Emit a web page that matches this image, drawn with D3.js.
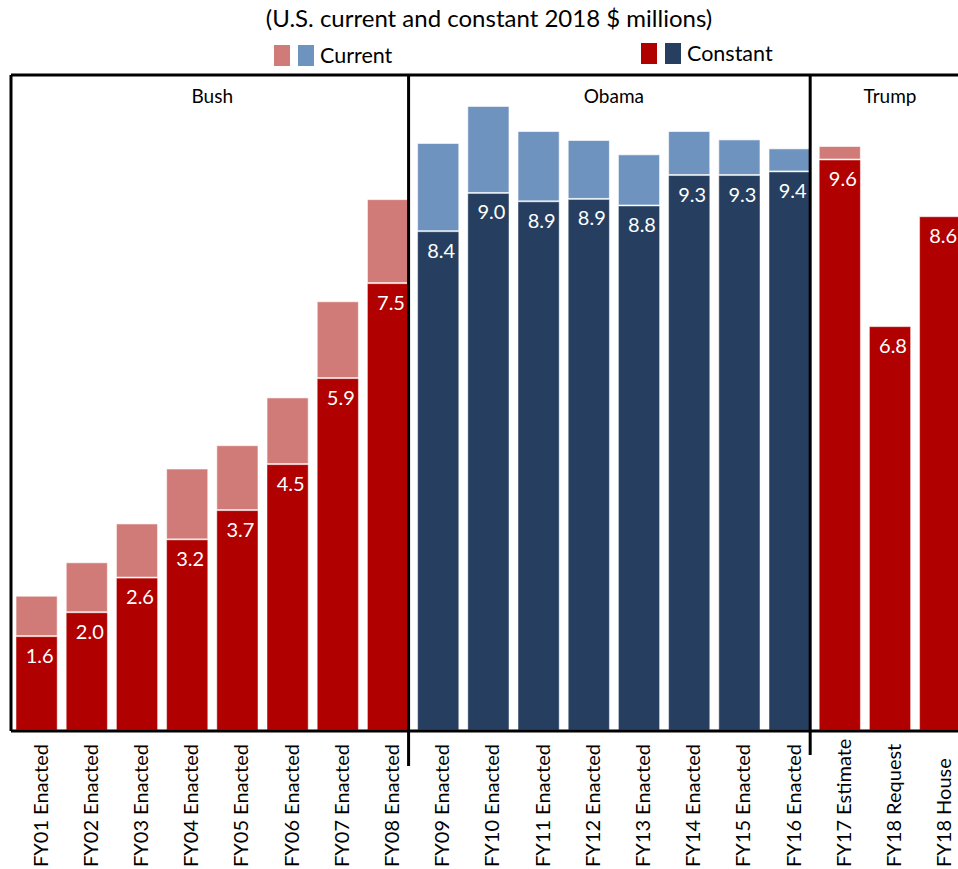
<!DOCTYPE html>
<html>

<head>
  <meta charset="utf-8">
  <script src="https://cdn.jsdelivr.net/npm/d3@7/dist/d3.min.js"></script>
  <style type="text/css">
    body {
      margin: 0;
      background: #fff;
      font-family: Lato, "Open Sans", sans-serif;
    }
  </style>
</head>

<body>
  <script type="text/javascript">
    const width = 958;
    const height = 869;

    // data
    const categories = [
      'FY01 Enacted', 'FY02 Enacted', 'FY03 Enacted', 'FY04 Enacted',
      'FY05 Enacted', 'FY06 Enacted', 'FY07 Enacted', 'FY08 Enacted',
      'FY09 Enacted', 'FY10 Enacted', 'FY11 Enacted', 'FY12 Enacted',
      'FY13 Enacted', 'FY14 Enacted', 'FY15 Enacted', 'FY16 Enacted',
      'FY17 Estimate', 'FY18 Request', 'FY18 House'
    ];
    const constant = [1.58, 1.98, 2.56, 3.2, 3.69, 4.46, 5.9, 7.49,
      8.36, 9.0, 8.86, 8.9, 8.79, 9.3, 9.3, 9.36, 9.56, 6.77, 8.61];
    // top of the lighter "current" segment (0 = none)
    const current = [2.24, 2.8, 3.45, 4.37, 4.76, 5.56, 7.17, 8.88,
      9.82, 10.44, 10.02, 9.87, 9.63, 10.02, 9.88, 9.73, 9.77, 0, 0];
    const groupNames = ['Bush', 'Obama', 'Trump'];
    const groupSizes = [8, 8, 3];

    const colors = {
      Bush: { dark: '#b00000', light: '#d17b78' },
      Obama: { dark: '#263f60', light: '#6f93bf' },
      Trump: { dark: '#b00000', light: '#d17b78' }
    };

    // which group each category belongs to
    const groupOf = [];
    groupNames.forEach((g, i) => {
      for (let k = 0; k < groupSizes[i]; k++) groupOf.push(g);
    });

    const data = categories.map((c, i) => ({
      cat: c, constant: constant[i], current: current[i], group: groupOf[i]
    }));

    const svg = d3.select('body').append('svg')
      .attr('width', width)
      .attr('height', height);

    const x = d3.scaleBand()
      .domain(categories)
      .range([11.5, 11.5 + 19 * 50.2])
      .paddingInner(0.18)
      .paddingOuter(0.09);

    const y = d3.scaleLinear()
      .domain([0, 11])
      .range([730, 73]);

    const fmt = d3.format('.1f');

    // title
    svg.append('text')
      .attr('x', 489)
      .attr('y', 27)
      .attr('text-anchor', 'middle')
      .style('font-size', '24px')
      .style('fill', '#000')
      .text('(U.S. current and constant 2018 $ millions)');

    // legend
    const legend = [
      { label: 'Current', x: 274, y: 45, key: 'light' },
      { label: 'Constant', x: 641, y: 43, key: 'dark' }
    ];
    legend.forEach(l => {
      svg.append('rect').attr('x', l.x).attr('y', l.y)
        .attr('width', 16).attr('height', 21)
        .attr('fill', colors.Bush[l.key]);
      svg.append('rect').attr('x', l.x + 24).attr('y', l.y)
        .attr('width', 16).attr('height', 21)
        .attr('fill', colors.Obama[l.key]);
      svg.append('text').attr('x', l.x + 46).attr('y', l.y + 18)
        .style('font-size', '21.5px')
        .text(l.label);
    });

    // bars
    const bars = svg.append('g');

    bars.selectAll('.cur').data(data.filter(d => d.current > d.constant)).join('rect')
      .attr('class', 'cur')
      .attr('x', d => x(d.cat))
      .attr('width', x.bandwidth())
      .attr('y', d => y(d.current))
      .attr('height', d => y(d.constant) - y(d.current))
      .attr('fill', d => colors[d.group].light)
      .attr('stroke', 'rgba(255,255,255,0.6)')
      .attr('stroke-width', 1);

    bars.selectAll('.con').data(data).join('rect')
      .attr('class', 'con')
      .attr('x', d => x(d.cat))
      .attr('width', x.bandwidth())
      .attr('y', d => y(d.constant) + 1)
      .attr('height', d => y(0) - y(d.constant) - 1)
      .attr('fill', d => colors[d.group].dark)
      .attr('stroke', 'rgba(255,255,255,0.45)')
      .attr('stroke-width', 1);

    bars.selectAll('.val').data(data).join('text')
      .attr('class', 'val')
      .attr('x', d => x(d.cat) + x.bandwidth() / 2 + 3)
      .attr('y', d => y(d.constant) + 27)
      .attr('text-anchor', 'middle')
      .style('font-size', '20px')
      .style('fill', '#fff')
      .text(d => fmt(d.constant));

    // frame, dividers, axis line
    const frame = svg.append('g')
      .attr('stroke', '#000')
      .attr('stroke-width', 3)
      .attr('fill', 'none');

    frame.append('line').attr('x1', 11).attr('x2', 970)
      .attr('y1', y(11) + 2).attr('y2', y(11) + 2);
    frame.append('line').attr('x1', 11).attr('x2', 11)
      .attr('y1', y(11) + 2).attr('y2', y(0) + 1);
    frame.append('line').attr('x1', 11).attr('x2', 970)
      .attr('y1', y(0) + 1).attr('y2', y(0) + 1);

    const lastOfGroup = [categories[7], categories[15]];
    const dividerEnds = [766, 755];
    lastOfGroup.forEach((c, i) => {
      const dx = x(c) + x.bandwidth();
      frame.append('line').attr('x1', dx).attr('x2', dx)
        .attr('y1', y(11) + 2).attr('y2', dividerEnds[i]);
    });

    // group titles centred over their categories
    let start = 0;
    groupNames.forEach((g, i) => {
      const first = categories[start];
      const last = categories[start + groupSizes[i] - 1];
      const cx = (x(first) + x(last) + x.bandwidth()) / 2;
      svg.append('text')
        .attr('x', cx)
        .attr('y', 103)
        .attr('text-anchor', 'middle')
        .style('font-size', '19px')
        .text(g);
      start += groupSizes[i];
    });

    // rotated category labels
    svg.append('g').selectAll('text').data(categories).join('text')
      .attr('transform', d => `translate(${x(d) + x.bandwidth() / 2 + 11}, 867) rotate(-90)`)
      .attr('text-anchor', 'start')
      .style('font-size', '20px')
      .style('fill', '#000')
      .text(d => d);
  </script>
</body>

</html>
